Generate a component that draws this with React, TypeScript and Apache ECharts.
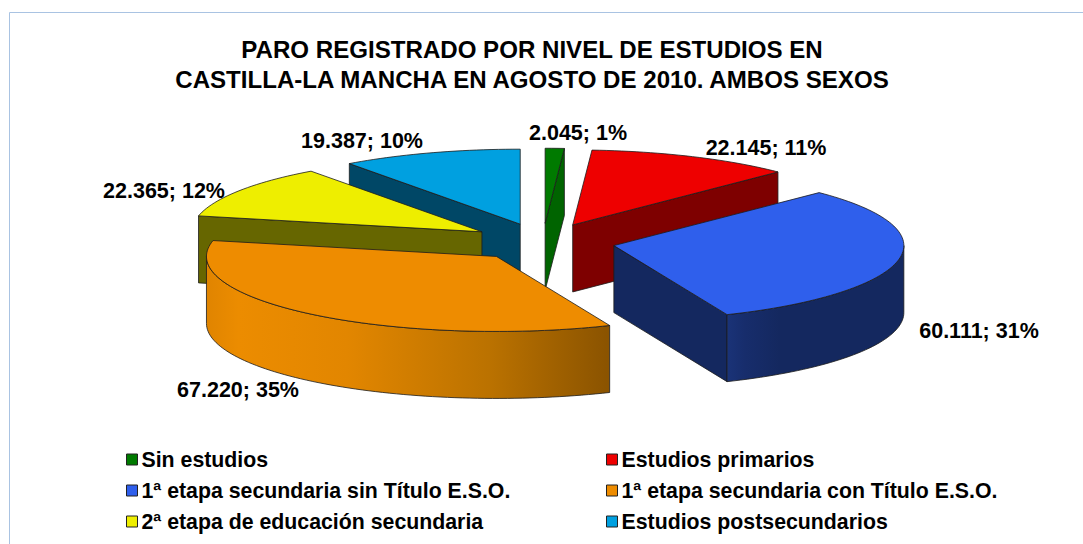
import React, { useEffect, useRef } from "react";
import * as echarts from "echarts";

const categories = [
  "Sin estudios",
  "Estudios primarios",
  "1ª etapa secundaria sin Título E.S.O.",
  "1ª etapa secundaria con Título E.S.O.",
  "2ª etapa de educación secundaria",
  "Estudios postsecundarios",
];
const values = [2045, 22145, 60111, 67220, 22365, 19387];
const titleLines = [
  "PARO REGISTRADO POR NIVEL DE ESTUDIOS EN",
  "CASTILLA-LA MANCHA EN AGOSTO DE 2010. AMBOS SEXOS",
];
const topColors = ["#007a00", "#ee0000", "#2f5fec", "#ee8c00", "#eeee00", "#00a0e0"];
const faceColors = ["#006400", "#7e0000", "#14285f", "#8a5300", "#666600", "#004766"];
const wallStops: [number, string][][] = [
  [[0, "#006400"], [1, "#006400"]],
  [[0, "#7e0000"], [1, "#7e0000"]],
  [[0, "#1a3378"], [0.1, "#172d6c"], [0.3, "#14285f"], [1, "#14285f"]],
  [[0, "#e08400"], [0.08, "#ec8c00"], [0.35, "#e28600"], [0.7, "#bb7200"], [1, "#8a5300"]],
  [[0, "#666600"], [1, "#666600"]],
  [[0, "#004766"], [1, "#004766"]],
];
const drawOrder = [5, 4, 0, 1, 2, 3];
const labelCenters = [
  [578, 133],
  [766, 148],
  [979, 331],
  [238, 390],
  [164, 191],
  [362, 141],
];

const CX = 542.7;
const CY = 242;
const RX = 290;
const RY = 75;
const H = 67;
const EXPLODE = 0.25;
const FONT = '"Liberation Sans", Arial, sans-serif';
const OUTLINE = "#1c1c1c";

const total = values.reduce((a, b) => a + b, 0);
const fmtValue = (v: number) => String(v).replace(/\B(?=(\d{3})+$)/g, ".");
const labelText = (i: number) => `${fmtValue(values[i])}; ${Math.round((values[i] / total) * 100)}%`;

const rad = (d: number) => (d * Math.PI) / 180;
const angles = values.map((_, i) => {
  const before = values.slice(0, i).reduce((a, b) => a + b, 0);
  return [(before / total) * 360, ((before + values[i]) / total) * 360];
});

function renderSlice(i: number) {
  const [a, b] = angles[i];
  const mid = rad((a + b) / 2);
  const ax = CX + EXPLODE * RX * Math.sin(mid);
  const ay = CY - EXPLODE * RY * Math.cos(mid);
  const pt = (deg: number, dy = 0) => [ax + RX * Math.sin(rad(deg)), ay - RY * Math.cos(rad(deg)) + dy];
  const arc = (from: number, to: number, dy = 0) => {
    const n = Math.max(2, Math.ceil(Math.abs(to - from) / 1.5));
    const out: number[][] = [];
    for (let k = 0; k <= n; k++) out.push(pt(from + ((to - from) * k) / n, dy));
    return out;
  };
  const stroke = { stroke: OUTLINE, lineWidth: 0.8, lineJoin: "round" };
  const children: any[] = [];
  const face = (deg: number) => ({
    type: "polygon",
    shape: { points: [[ax, ay], pt(deg), pt(deg, H), [ax, ay + H]] },
    style: { fill: faceColors[i], ...stroke },
  });
  if (Math.sin(rad(a)) < -1e-6) children.push(face(a));
  if (Math.sin(rad(b)) > 1e-6) children.push(face(b));
  const w0 = Math.max(a, 90);
  const w1 = Math.min(b, 270);
  if (w1 > w0) {
    const stops = wallStops[i].map(([offset, color]) => ({ offset, color }));
    children.push({
      type: "polygon",
      shape: { points: [...arc(w1, w0), ...arc(w0, w1, H)] },
      style: {
        fill: new echarts.graphic.LinearGradient(0, 0, 1, 0, stops),
        ...stroke,
      },
    });
  }
  children.push({
    type: "polygon",
    shape: { points: [[ax, ay], ...arc(a, b)] },
    style: { fill: topColors[i], ...stroke },
  });
  return { type: "group", children };
}

export default function App() {
  const ref = useRef<HTMLDivElement>(null);
  useEffect(() => {
    document.body.style.margin = "0";
    const chart = echarts.init(ref.current!, null, { renderer: "svg" });
    const legendBase = {
      orient: "vertical" as const,
      itemWidth: 11,
      itemHeight: 11,
      itemGap: 10,
      icon: "rect",
      selectedMode: false,
      padding: 0,
      itemStyle: { borderColor: "#222", borderWidth: 1 },
      textStyle: {
        fontFamily: FONT,
        fontWeight: "bold" as const,
        fontSize: 21.3,
        color: "#000",
        lineHeight: 21,
        padding: [0, 0, 0, -1],
      },
    };
    chart.setOption({
      animation: false,
      backgroundColor: "#fff",
      title: {
        text: titleLines.join("\n"),
        left: 527,
        top: 29,
        textAlign: "center",
        textStyle: { fontFamily: FONT, fontWeight: "bold", fontSize: 24.1, color: "#000", lineHeight: 30 },
      },
      legend: [
        { ...legendBase, left: 126, top: 449, data: [categories[0], categories[2], categories[4]] },
        { ...legendBase, left: 606, top: 449, data: [categories[1], categories[3], categories[5]] },
      ],
      graphic: [
        {
          type: "polyline",
          shape: { points: [[9.5, 544], [9.5, 12.5], [1083, 12.5]] },
          style: { stroke: "#a9c3e2", lineWidth: 1, fill: "none" },
        },
        ...labelCenters.map(([x, y], i) => ({
          type: "text",
          x,
          y,
          z: 100,
          style: {
            text: labelText(i),
            font: `bold 21.5px ${FONT}`,
            fill: "#000",
            textAlign: "center",
            textVerticalAlign: "middle",
          },
        })),
      ],
      series: categories.map((name, i) => ({
        type: "custom",
        name,
        coordinateSystem: "none",
        z: 2 + drawOrder.indexOf(i),
        itemStyle: { color: topColors[i] },
        data: [values[i]],
        renderItem: () => renderSlice(i),
      })),
    });
    return () => chart.dispose();
  }, []);
  return <div ref={ref} style={{ width: 1083, height: 544 }} />;
}
